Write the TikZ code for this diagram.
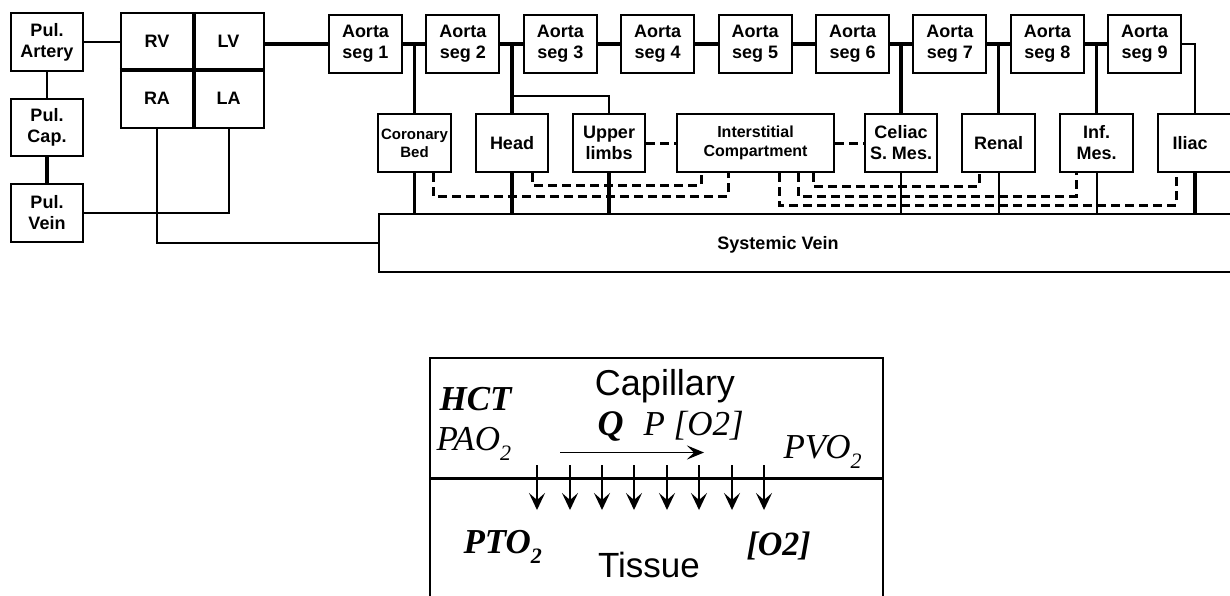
\documentclass[tikz,border=0pt]{standalone}
\usepackage{fontspec}
\setmainfont{Liberation Serif}
\setsansfont{Liberation Sans}
\usetikzlibrary{arrows.meta}
\tikzset{
  box/.style={draw, line width=2.1pt, minimum width=73pt, minimum height=58pt, inner sep=0pt, align=center, font=\sffamily\bfseries\fontsize{18}{21}\selectfont},
  smallbox/.style={box, font=\sffamily\bfseries\fontsize{15}{18}\selectfont},
  cell/.style={draw, line width=2.1pt, inner sep=0pt, font=\sffamily\bfseries\fontsize{18}{21}\selectfont},
  thickc/.style={line width=3.3pt},
  thinc/.style={line width=2pt},
  dashc/.style={line width=3pt, dash pattern=on 9pt off 5pt},
  arr/.style={line width=1.8pt, -{Stealth[length=17pt,width=16pt,inset=7pt]}},
  harr/.style={line width=1.8pt, -{Stealth[length=17pt,width=14pt,inset=7pt]}},
  serifbig/.style={anchor=base west, font=\fontsize{35}{35}\selectfont\itshape},
  serifbold/.style={anchor=base west, font=\fontsize{34}{34}\selectfont\bfseries\itshape},
  sanslbl/.style={anchor=base, font=\sffamily\fontsize{36}{36}\selectfont}
}
\begin{document}
\begin{tikzpicture}[x=1pt,y=-1pt]
\useasboundingbox (0,0) rectangle (1230,595);
\clip (0,0) rectangle (1230,595);
% pulmonary
\node[box, minimum width=72pt] (pa) at (47,42) {Pul.\\Artery};
\node[box, minimum width=72pt, minimum height=57pt] (pc) at (47,127.5) {Pul.\\Cap.};
\node[box, minimum width=72pt] (pv) at (47,213) {Pul.\\Vein};
% heart
\node[cell, minimum width=72pt, minimum height=56pt] (rv) at (157,41) {RV};
\node[cell, minimum width=71pt, minimum height=56pt] (lv) at (228.5,41) {LV};
\node[cell, minimum width=72pt, minimum height=59pt] (ra) at (157,98.5) {RA};
\node[cell, minimum width=71pt, minimum height=59pt] (la) at (228.5,98.5) {LA};
\draw[thickc] (rv.north east) -- (ra.south east);
\draw[thickc] (rv.south west) -- (lv.south east);
% aorta
\foreach \i in {1,...,9} {
  \node[box] (a\i) at ({365.5+97.4*(\i-1)},44) {Aorta\\seg \i};
}
% organs
\node[smallbox] (cor) at (414.5,143) {Coronary\\Bed};
\node[box, minimum width=72pt] (head) at (512,143) {Head};
\node[box, minimum width=72pt] (ul) at (609,143) {Upper\\limbs};
\node[smallbox, minimum width=157pt, font=\sffamily\bfseries\fontsize{16}{18.5}\selectfont] (ic) at (755.5,143) {Interstitial\\Compartment};
\node[box, minimum width=72pt] (cel) at (901,143) {Celiac\\S. Mes.};
\node[box] (ren) at (998.5,143) {Renal};
\node[box] (inf) at (1096.5,143) {Inf.\\Mes.};
\node[box, minimum width=74pt] (il) at (1195,143) {Iliac\hspace{10pt}};
% systemic vein
\node[draw, line width=2.1pt, minimum width=861pt, minimum height=58pt, inner sep=0pt] (sv) at (809.5,243) {};
\node[font=\sffamily\bfseries\fontsize{18}{21}\selectfont] (svt) at (778,245) {Systemic Vein};
% pulmonary connections
\draw[thinc] (pa.east) -- (pa.east -| rv.west);
\draw[thinc] (pa.south) -- (pc.north);
\draw[thickc] (pc.south) -- (pv.north);
\draw[thinc] (pv.east) -| (la.south);
\draw[thinc] (ra.south) |- (sv.west);
\draw[thickc] (a1.west -| lv.east) -- (a1.west);
% aorta chain
\foreach \i/\j in {1/2,2/3,3/4,4/5,5/6,6/7,7/8,8/9} {
  \draw[thickc] (a\i.east) -- (a\j.west);
}
% branches
\draw[thickc] (cor.north) -- (cor.north |- a1.east);
\draw[thickc] (head.north) -- (head.north |- a2.east);
\draw[thickc] (cel.north) -- (cel.north |- a6.east);
\draw[thickc] (ren.north) -- (ren.north |- a7.east);
\draw[thickc] (inf.north) -- (inf.north |- a8.east);
\coordinate (ulj) at (512,96);
\draw[thinc] (ulj) -| (ul.north);
\draw[thinc] (a9.east) -| (il.north);
% to systemic vein
\draw[thickc] (cor.south) -- (cor.south |- sv.north);
\draw[thickc] (head.south) -- (head.south |- sv.north);
\draw[thickc] (ul.south) -- (ul.south |- sv.north);
\draw[thinc] (cel.south) -- (cel.south |- sv.north);
\draw[thinc] (ren.south) -- (ren.south |- sv.north);
\draw[thinc] (inf.south) -- (inf.south |- sv.north);
\draw[thickc] (il.south) -- (il.south |- sv.north);
% dashed exchange
\draw[dashc] (ul.east) -- (ic.west);
\draw[dashc] (ic.east) -- (cel.west);
\draw[dashc] ([xshift=18.5pt]cor.south) -- ++(0,23) -| ([xshift=-27.5pt]ic.south);
\draw[dashc] ([xshift=20pt]head.south) -- ++(0,12) -| ([xshift=-54.5pt]ic.south);
\draw[dashc] ([xshift=57.5pt]ic.south) -- ++(0,13) -| ([xshift=-19.5pt]ren.south);
\draw[dashc] ([xshift=42.5pt]ic.south) -- ++(0,23) -| ([xshift=-20.5pt]inf.south);
\draw[dashc] ([xshift=23.5pt]ic.south) -- ++(0,32) -| ([xshift=-19pt]il.south);
% ---- capillary / tissue ----
\node[draw, line width=2.1pt, minimum width=453pt, minimum height=247pt, inner sep=0pt] (cb) at (656.5,481.5) {};
\coordinate (ifl) at (430,478.5);
\coordinate (ifr) at (883,478.5);
\draw[line width=2.1pt] (ifl) -- (ifr);
\node[sanslbl] (capt) at (665,395) {Capillary};
\node[sanslbl, font=\sffamily\fontsize{35}{35}\selectfont] (tis) at (649,577) {Tissue};
\node[serifbold, font=\fontsize{35}{35}\selectfont\bfseries\itshape] (hct) at (436,410) {HCT};
\node[serifbig] (pao) at (433,450) {PAO\raisebox{-10pt}{\fontsize{22}{22}\selectfont 2}};
\node[serifbig] (pvo) at (780,458) {PVO\raisebox{-10pt}{\fontsize{22}{22}\selectfont 2}};
\node[serifbold, font=\fontsize{36}{36}\selectfont\bfseries\itshape] (q) at (594,435) {Q};
\node[serifbig] (pq) at (640,435) {P [O2]};
\node[serifbold, font=\fontsize{35}{35}\selectfont\bfseries\itshape] (pto) at (460,553) {PTO\raisebox{-10pt}{\fontsize{22}{22}\selectfont 2}};
\node[serifbold, font=\fontsize{34}{34}\selectfont\bfseries\itshape] (o2t) at (743,555) {[O2]};
\coordinate (fs) at (560,452.5);
\coordinate (fe) at (704,452.5);
\draw[harr] (fs) -- (fe);
\foreach \k/\x in {1/537,2/570,3/602,4/634,5/667,6/699,7/732,8/764} {
  \coordinate (ds\k) at (\x,465);
  \coordinate (de\k) at (\x,510);
  \draw[arr] (ds\k) -- (de\k);
}
\end{tikzpicture}
\end{document}
